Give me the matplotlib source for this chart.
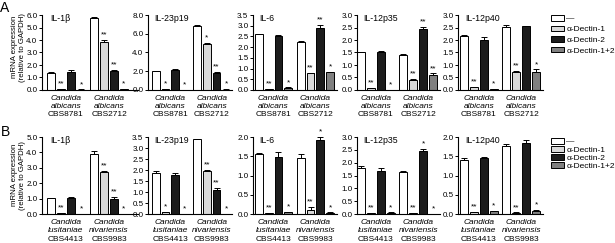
import matplotlib
matplotlib.use("Agg")
import matplotlib.pyplot as plt
from matplotlib.transforms import blended_transform_factory
import numpy as np

plt.rcParams['font.family'] = ['Liberation Sans', 'DejaVu Sans']

W, H = 615, 243

cytokines = ['IL-1β', 'IL-23p19', 'IL-6', 'IL-12p35', 'IL-12p40']
treatments = ['—', 'α-Dectin-1', 'α-Dectin-2', 'α-Dectin-1+2']
strains_A = [('Candida', 'albicans', 'CBS8781'), ('Candida', 'albicans', 'CBS2712')]
strains_B = [('Candida', 'lusitaniae', 'CBS4413'), ('Candida', 'nivariensis', 'CBS9983')]

# Panel A values [group][treatment]
A_il1b = [[1.38, 0.08, 1.42, 0.03], [5.75, 3.85, 1.52, 0.05]]
A_il23 = [[2.0, 0.08, 2.15, 0.0], [6.8, 4.9, 1.85, 0.05]]
A_il6 = [[2.6, 0.03, 2.52, 0.10], [2.25, 0.77, 2.9, 0.82]]
A_il12p35 = [[1.5, 0.07, 1.52, 0.0], [1.4, 0.40, 2.45, 0.60]]
A_il12p40 = [[2.15, 0.10, 2.0, 0.03], [2.52, 0.70, 2.55, 0.70]]
# Panel A errors
A_il1b_err = [[0.05, 0.02, 0.15, 0.01], [0.10, 0.12, 0.05, 0.01]]
A_il23_err = [[0.05, 0.02, 0.12, 0.0], [0.15, 0.10, 0.10, 0.02]]
A_il6_err = [[0.03, 0.01, 0.03, 0.02], [0.05, 0.04, 0.12, 0.02]]
A_il12p35_err = [[0.01, 0.02, 0.03, 0.0], [0.02, 0.04, 0.08, 0.06]]
A_il12p40_err = [[0.05, 0.02, 0.10, 0.01], [0.10, 0.05, 0.03, 0.12]]
# Panel A significance
A_il1b_sig = [['', '**', '', '*'], ['', '**', '**', '*']]
A_il23_sig = [['', '*', '', '*'], ['', '*', '**', '*']]
A_il6_sig = [['', '**', '', '*'], ['', '**', '**', '*']]
A_il12p35_sig = [['', '**', '', '*'], ['', '**', '**', '**']]
A_il12p40_sig = [['', '**', '', '*'], ['', '**', '', '*']]

# Panel B values
B_il1b = [[1.02, 0.05, 1.05, 0.0], [3.9, 2.75, 1.0, 0.02]]
B_il23 = [[1.87, 0.08, 1.78, 0.0], [3.4, 1.97, 1.10, 0.02]]
B_il6 = [[1.57, 0.02, 1.48, 0.04], [1.45, 0.10, 1.92, 0.03]]
B_il12p35 = [[1.80, 0.02, 1.68, 0.04], [1.62, 0.03, 2.45, 0.01]]
B_il12p40 = [[1.40, 0.05, 1.45, 0.07], [1.77, 0.03, 1.85, 0.08]]
B_il1b_err = [[0.05, 0.01, 0.03, 0.0], [0.22, 0.05, 0.12, 0.01]]
B_il23_err = [[0.08, 0.02, 0.10, 0.0], [0.03, 0.04, 0.08, 0.0]]
B_il6_err = [[0.02, 0.01, 0.14, 0.01], [0.10, 0.08, 0.07, 0.01]]
B_il12p35_err = [[0.08, 0.01, 0.10, 0.02], [0.07, 0.02, 0.08, 0.0]]
B_il12p40_err = [[0.06, 0.01, 0.02, 0.01], [0.04, 0.01, 0.07, 0.02]]
B_il1b_sig = [['', '**', '', '*'], ['', '**', '**', '*']]
B_il23_sig = [['', '*', '', '*'], ['', '**', '**', '*']]
B_il6_sig = [['', '**', '', '*'], ['', '**', '*', '*']]
B_il12p35_sig = [['', '**', '', '*'], ['', '**', '*', '*']]
B_il12p40_sig = [['', '**', '', '*'], ['', '**', '', '*']]

A_ymax = [6.0, 8.0, 3.5, 3.0, 3.0]
A_ystep = [1.0, 2.0, 0.5, 0.5, 0.5]
B_ymax = [5.0, 3.5, 2.0, 3.0, 2.0]
B_ystep = [1.0, 0.5, 0.5, 0.5, 0.5]

A_vals = [A_il1b, A_il23, A_il6, A_il12p35, A_il12p40]
A_errs = [A_il1b_err, A_il23_err, A_il6_err, A_il12p35_err, A_il12p40_err]
A_sigs = [A_il1b_sig, A_il23_sig, A_il6_sig, A_il12p35_sig, A_il12p40_sig]
B_vals = [B_il1b, B_il23, B_il6, B_il12p35, B_il12p40]
B_errs = [B_il1b_err, B_il23_err, B_il6_err, B_il12p35_err, B_il12p40_err]
B_sigs = [B_il1b_sig, B_il23_sig, B_il6_sig, B_il12p35_sig, B_il12p40_sig]

colors = ['white', '#d9d9d9', '#1c1c1c', '#808080']

# layout in pixels: axis left, axis right, first bar left, last bar right
cols = [(42, 138, 47, 128), (148, 232, 152, 230), (253, 337, 255, 334),
        (357, 440, 357, 437), (458, 543, 460, 540)]
rows = {'A': (15, 90), 'B': (137, 214)}

gpitch = 4.3
bw = 0.8

fig = plt.figure(figsize=(W / 100, H / 100), dpi=100)


def draw_row(rowkey, vals_all, errs_all, sigs_all, ymaxs, ysteps, strains):
    top, bot = rows[rowkey]
    axes = []
    for c in range(5):
        axL, axR, bL, bR = cols[c]
        ax = fig.add_axes([axL / W, 1 - bot / H, (axR - axL) / W, (bot - top) / H])
        s = (bR - bL) / (gpitch + 3 + bw)
        x0 = -bw / 2 - (bL - axL) / s
        x1 = gpitch + 3 + bw / 2 + (axR - bR) / s
        ax.set_xlim(x0, x1)
        ymax = ymaxs[c]
        ax.set_ylim(0, ymax)
        bars = []
        for t in range(4):
            xs = [g * gpitch + t for g in range(2)]
            v = [vals_all[c][g][t] for g in range(2)]
            e = [errs_all[c][g][t] for g in range(2)]
            b = ax.bar(xs, v, width=bw, color=colors[t], edgecolor='black',
                       linewidth=0.7, zorder=2, label=treatments[t])
            ax.errorbar(xs, v, yerr=[np.zeros(2), e], fmt='none', ecolor='black',
                        elinewidth=0.7, capsize=2.2, capthick=0.7, zorder=3)
            bars.append(b)
            for g in range(2):
                sg = sigs_all[c][g][t]
                if sg:
                    ax.text(xs[g], v[g] + e[g] + ymax * 0.02, sg, ha='center',
                            va='bottom', fontsize=6, zorder=4)
        ax.spines['top'].set_visible(False)
        ax.spines['right'].set_visible(False)
        ax.spines['left'].set_linewidth(0.8)
        ax.spines['bottom'].set_linewidth(0.8)
        ax.set_yticks(np.arange(0, ymax + 1e-9, ysteps[c]))
        ax.yaxis.set_major_formatter(matplotlib.ticker.FormatStrFormatter('%.1f'))
        ax.tick_params(axis='y', length=2.5, width=0.7, labelsize=5.8, pad=0.8)
        ax.set_xticks([])
        ax.text(0.09 if c == 0 else 0.08, 0.955, cytokines[c], transform=ax.transAxes,
                fontsize=6.3, ha='left', va='center')
        tr = blended_transform_factory(ax.transData, ax.transAxes)
        for g in range(2):
            cx = g * gpitch + 1.5
            lines = strains[g]
            for k, (txt, sty) in enumerate(zip(lines, ['italic', 'italic', 'normal'])):
                ax.annotate(txt, xy=(cx, 0), xycoords=tr, xytext=(0, -(5.8 + 6.1 * k)),
                            textcoords='offset points', ha='center', va='center',
                            fontsize=6, fontstyle=sty)
        axes.append((ax, bars))
    return axes


axA = draw_row('A', A_vals, A_errs, A_sigs, A_ymax, A_ystep, strains_A)
axB = draw_row('B', B_vals, B_errs, B_sigs, B_ymax, B_ystep, strains_B)

for axes, ypix, sp in [(axA, 15, 0.35), (axB, 138, 0.05)]:
    ax, bars = axes[-1]
    fig.legend(handles=bars, labels=treatments, loc='upper left',
               bbox_to_anchor=(551 / W, 1 - ypix / H), frameon=False, fontsize=6,
               handlelength=1.6, handleheight=0.65, handletextpad=0.25,
               labelspacing=sp, borderpad=0, borderaxespad=0)

# y labels
for yc in [47, 175]:
    fig.text(15 / W, 1 - yc / H, 'mRNA expression', rotation=90, ha='center',
             va='center', fontsize=5.6)
    fig.text(22.5 / W, 1 - yc / H, '(relative to GAPDH)', rotation=90, ha='center',
             va='center', fontsize=5.6)

fig.text(5 / W, 1 - 8 / H, 'A', fontsize=10, ha='center', va='center')
fig.text(5 / W, 1 - 132 / H, 'B', fontsize=10, ha='center', va='center')

fig.savefig('out.png', dpi=100)
